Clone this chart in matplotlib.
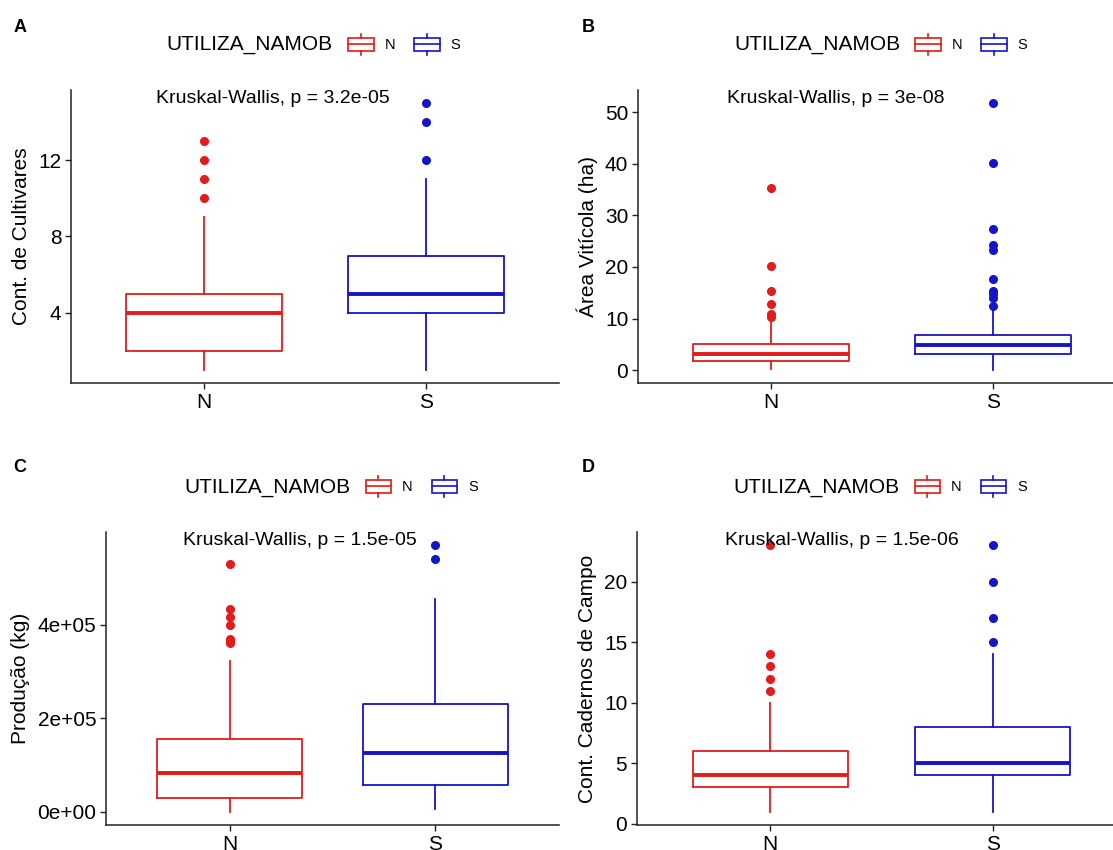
import matplotlib
matplotlib.use("Agg")
import matplotlib.pyplot as plt
from matplotlib.patches import Patch, Rectangle
from matplotlib.lines import Line2D
from matplotlib.legend_handler import HandlerBase

plt.rcParams['font.family'] = ['Liberation Sans', 'DejaVu Sans']

# groups
groups = ["N", "S"]
colors = ["#E21B1B", "#1515C8"]

# five-number summaries: whisker low, Q1, median, Q3, whisker high
cult_n = [1, 2, 4, 5, 9]
cult_n_out = [10, 11, 12, 13]
cult_s = [1, 4, 5, 7, 11]
cult_s_out = [12, 14, 15]

area_n = [0.2, 1.8, 3.2, 5.0, 9.8]
area_n_out = [10.3, 10.8, 12.8, 15.4, 20.1, 35.2]
area_s = [0.1, 3.2, 4.8, 6.8, 12.0]
area_s_out = [12.4, 14.0, 14.8, 15.4, 17.7, 23.3, 24.3, 27.4, 40.2, 51.7]

prod_n = [0, 30000, 83000, 155000, 323000]
prod_n_out = [360000, 365000, 370000, 400000, 417000, 434000, 530000]
prod_s = [6000, 57000, 126000, 230000, 455000]
prod_s_out = [540000, 570000]

cad_n = [1, 3, 4, 6, 10]
cad_n_out = [11, 12, 13, 14, 23]
cad_s = [1, 4, 5, 8, 14]
cad_s_out = [15, 17, 20, 23]

pvalues = ["3.2e-05", "3e-08", "1.5e-05", "1.5e-06"]
ylabels = ["Cont. de Cultivares", "Área Vitícola (ha)", "Produção (kg)", "Cont. Cadernos de Campo"]
yticks = [[4, 8, 12], [0, 10, 20, 30, 40, 50], [0, 200000, 400000], [0, 5, 10, 15, 20]]
letters = ["A", "B", "C", "D"]

panels = [
    (cult_n, cult_n_out, cult_s, cult_s_out),
    (area_n, area_n_out, area_s, area_s_out),
    (prod_n, prod_n_out, prod_s, prod_s_out),
    (cad_n, cad_n_out, cad_s, cad_s_out),
]

W, H = 1113, 850
# axes boxes in pixels: left, top, right, bottom
boxes = [(71, 90, 559, 383), (638, 90, 1126, 383), (106, 532, 559, 825), (637, 532, 1126, 825)]
letter_pos = [(20, 28), (588, 28), (20, 468), (588, 468)]
kw_x = [1.31, 1.29, 1.34, 1.32]


class BoxKey(HandlerBase):
    # small boxplot glyph, sized from the font size
    def create_artists(self, legend, orig_handle, xdescent, ydescent, width, height, fontsize, trans):
        c = orig_handle.get_edgecolor()
        x0 = -xdescent
        yc = -ydescent + height / 2
        whisk = 0.72 * fontsize
        half = 0.43 * fontsize
        art = [Rectangle((x0, yc - half), width, 2 * half, fill=False, edgecolor=c, lw=1.2, transform=trans),
               Line2D([x0, x0 + width], [yc, yc], color=c, lw=1.2, transform=trans),
               Line2D([x0 + width / 2] * 2, [yc + half, yc + whisk], color=c, lw=1.2, transform=trans),
               Line2D([x0 + width / 2] * 2, [yc - whisk, yc - half], color=c, lw=1.2, transform=trans)]
        return art


fig = plt.figure(figsize=(W / 100, H / 100), dpi=100)

for i, (n5, nout, s5, sout) in enumerate(panels):
    l, t, r, b = boxes[i]
    ax = fig.add_axes([l / W, 1 - b / H, (r - l) / W, (b - t) / H])
    for j, (five, out) in enumerate([(n5, nout), (s5, sout)]):
        st = dict(whislo=five[0], q1=five[1], med=five[2], q3=five[3], whishi=five[4], fliers=out)
        c = colors[j]
        ax.bxp([st], positions=[j + 1], widths=0.7, showcaps=False,
               boxprops=dict(color=c, lw=1.3),
               whiskerprops=dict(color=c, lw=1.3),
               medianprops=dict(color=c, lw=2.8, solid_capstyle='butt'),
               flierprops=dict(marker='o', markerfacecolor=c, markeredgecolor=c, markersize=5.5))
    allv = n5 + nout + s5 + sout
    lo, hi = min(allv), max(allv)
    pad = (hi - lo) * 0.05
    ax.set_ylim(lo - pad, hi + pad)
    ax.set_xlim(0.4, 2.6)
    ax.set_xticks([1, 2])
    ax.set_xticklabels(groups)
    ax.set_yticks(yticks[i])
    if i == 2:
        ax.set_yticklabels([f"{v:.0e}" for v in yticks[i]])
    for s in ["top", "right"]:
        ax.spines[s].set_visible(False)
    for s in ["left", "bottom"]:
        ax.spines[s].set_linewidth(1.1)
        ax.spines[s].set_color("#222222")
    ax.tick_params(labelsize=15, length=4, width=1, color="#222222", pad=3)
    ax.tick_params(axis='x', pad=3)
    ax.set_ylabel(ylabels[i], fontsize=15, labelpad=5)

    ax.annotate(f"Kruskal-Wallis, p = {pvalues[i]}", xy=(kw_x[i], 1), xycoords=ax.get_xaxis_transform(),
                xytext=(0, -6), textcoords='offset points', ha='center', va='center', fontsize=14)

    # legend on top
    cx = (l + r) / 2
    yl = t - 45
    xk = cx + 33
    handles = [Patch(facecolor='none', edgecolor=colors[0]), Patch(facecolor='none', edgecolor=colors[1])]
    ax.legend(handles, groups, handler_map={Patch: BoxKey()}, ncol=2, frameon=False,
              loc='center left', bbox_to_anchor=(xk / W, 1 - yl / H), bbox_transform=fig.transFigure,
              borderpad=0, borderaxespad=0, handlelength=1.75, handleheight=1.0,
              handletextpad=0.75, columnspacing=1.3, fontsize=10.5)
    fig.text((xk - 15) / W, 1 - yl / H, "UTILIZA_NAMOB", ha='right', va='center', fontsize=15)

    lx, ly = letter_pos[i]
    fig.text(lx / W, 1 - ly / H, letters[i], ha='center', va='center', fontsize=13, fontweight='bold')

fig.savefig("out.png", dpi=100)
